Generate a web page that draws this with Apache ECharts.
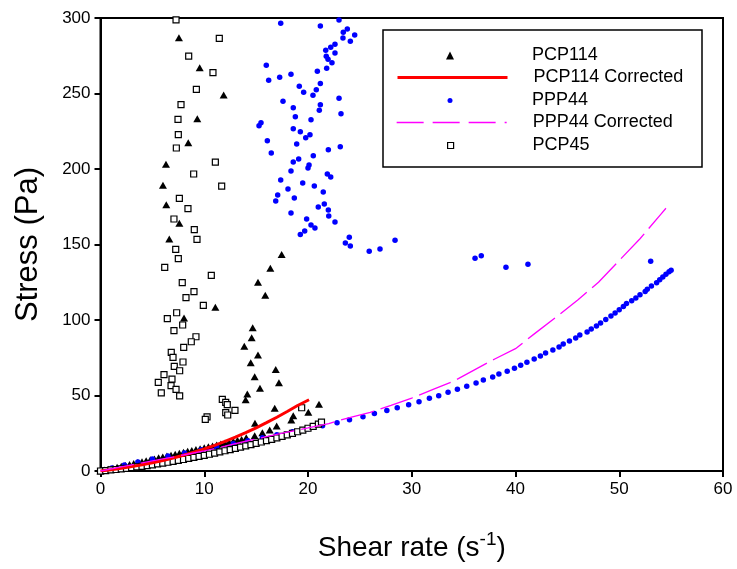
<!DOCTYPE html>
<html>
<head>
<meta charset="utf-8">
<script src="https://cdn.jsdelivr.net/npm/echarts@6/dist/echarts.min.js"></script>
<style>html,body{margin:0;padding:0;background:#fff}#c{width:737px;height:569px}</style>
</head>
<body>
<div id="c"></div>
<script>
// ---- data (x = shear rate 1/s, y = stress Pa) ----
const xTicks = [0, 10, 20, 30, 40, 50, 60];
const yTicks = [0, 50, 100, 150, 200, 250, 300];
const seriesNames = ['PCP114', 'PCP114 Corrected', 'PPP44', 'PPP44 Corrected', 'PCP45'];

const pcp114Curve = [[0,0],[0.4,0.6],[0.8,1.2],[1.2,1.9],[1.6,2.5],[2.0,3.1],[2.4,3.7],[2.8,4.3],[3.2,5.0],[3.6,5.6],[4.0,6.2],[4.4,6.8],[4.8,7.4],[5.2,8.0],[5.6,8.7],[6.0,9.3],[6.4,9.9],[6.8,10.5],[7.2,11.1],[7.6,11.7],[8.0,12.4],[8.4,13.0],[8.8,13.6],[9.2,14.2],[9.6,14.8],[10.0,15.4],[10.4,16.0],[10.8,16.6],[11.2,17.2],[11.6,17.9],[12.0,18.5],[12.4,19.1],[12.8,19.7],[13.2,20.3],[13.6,20.9],[14.05,22.0],[14.86,23.4],[15.6,25.4],[16.31,27.2],[16.98,29.8]];
const pcp114Scatter = [[7.56,287],[9.56,267],[11.87,249],[9.33,233.3],[8.46,217.4],[6.31,203.1],[6.02,189.2],[6.34,176.4],[7.6,164],[6.63,153.6],[11.07,108.4],[8.05,101.3],[17.46,143.3],[16.37,134.2],[15.18,125],[15.88,116.4],[14.67,94.9],[14.57,88.3],[13.86,82.6],[15.18,76.8],[14.48,71.7],[14.86,62.5],[16.89,67.3],[17.2,58.5],[15.37,54.8],[14.15,51],[13.99,47.2],[16.79,41.5],[21.06,44.2],[20.03,38.9],[18.58,36.6],[18.39,33.8],[14.89,31.6]];

const pcp114Corrected = [[0,0],[1,0.8],[2,1.8],[3,2.9],[4,4.1],[5,5.5],[6,7.0],[7,8.6],[8,10.4],[9,12.4],[10,14.6],[11,17.0],[12,19.6],[13,22.4],[14,25.4],[15,28.6],[16,32.0],[17,35.6],[18,39.4],[19,43.4],[20.1,47.2]];

const ppp44Curve = [[0,0],[1.1,2],[2.3,4],[3.6,6],[5.0,8],[6.5,10],[8.1,12],[9.7,14],[11.2,16],[12.8,18],[14.2,20],[15.6,22],[17.0,24],[18.5,26],[20.0,28],[21.4,30],[22.8,32],[24.0,34],[25.3,36],[26.4,38],[27.6,40],[28.6,41.9],[29.7,43.9],[30.7,45.9],[31.7,48.1],[32.6,49.9],[33.5,52.1],[34.4,54.1],[35.3,56.1],[36.2,58.3],[36.9,60.3],[37.8,62.3],[38.4,64.2],[39.2,66.0],[39.9,68.0],[40.5,70.0],[41.1,72.0],[41.8,74.2],[42.4,76.2],[42.9,78.1],[43.6,80.1],[44.2,82.1],[44.6,84.1],[45.2,86.1],[45.8,88.1],[46.2,90.1],[46.9,92.1],[47.3,94.0],[47.8,96.0],[48.2,98.0],[48.7,100.4],[49.2,102.6],[49.6,104.6],[50.0,106.8],[50.4,109.0],[50.7,111.0],[51.2,112.8],[51.6,114.6],[52.0,116.8],[52.5,118.8],[52.7,120.3],[53.1,122.5],[53.6,124.7],[53.9,126.7],[54.2,128.5],[54.5,130.3],[54.8,132.0],[55.0,132.9]];
const ppp44Scatter = [[17.37,296.5],[21.19,294.7],[22.99,298.7],[23.79,292.7],[23.4,290.5],[24.5,288.7],[23.37,286.8],[24.08,284.6],[22.6,282.6],[22.19,280.6],[21.71,278.6],[22.6,276.8],[21.76,274.6],[21.93,272.6],[22.31,270.4],[15.98,268.7],[21.8,266.7],[20.9,264.7],[18.36,262.7],[17.27,260.7],[16.21,258.7],[21.19,256.7],[19.16,254.8],[20.8,252.5],[19.58,250.8],[20.48,248.8],[22.99,246.8],[17.59,244.8],[21.19,242.6],[18.58,240.6],[21.09,238.9],[23.18,236.6],[18.78,234.6],[20.29,232.6],[15.47,230.6],[15.28,228.7],[18.58,226.7],[19.26,224.7],[20.19,222.7],[19.78,220.7],[16.08,218.7],[18.91,216.6],[23.11,214.8],[21.96,212.8],[16.46,210.6],[20.51,208.8],[19.1,206.6],[18.58,204.6],[20.1,202.6],[20.0,200.7],[18.36,198.7],[21.86,196.7],[22.19,194.7],[17.37,192.7],[19.49,190.7],[20.61,188.7],[18.07,186.8],[21.47,184.8],[17.08,182.8],[18.68,180.8],[16.89,178.8],[21.57,176.8],[20.99,174.8],[21.96,172.8],[18.36,170.9],[22.0,168.9],[19.87,166.9],[22.6,164.9],[20.29,162.9],[20.67,160.9],[19.68,158.9],[19.26,156.7],[23.98,154.8],[23.6,151.0],[24.08,149.0],[25.9,145.5],[26.94,147.0],[28.39,152.8],[36.1,140.9],[36.7,142.6],[39.08,134.9],[41.2,136.9],[53.03,138.9]];

const ppp44Corrected = [[0,0],[2,2.7],[4,5.4],[6,8.0],[8,10.6],[10,13.4],[12,16.4],[14,19.7],[16,22.8],[18,25.7],[20,28.5],[22,31.4],[24,35.4],[26,38.9],[28,43.5],[30,48.3],[32,53.9],[34,59.4],[36,66.8],[38,74.2],[40,81.0],[42,91.8],[44,102.3],[46,113.3],[48,125.0],[50,139.4],[52,153.8],[54,170.0],[54.5,174.0]];

const pcp45Curve = [[0,0],[0.5,0.3],[1,0.7],[1.5,1.0],[2,1.4],[2.5,1.8],[3,2.2],[3.5,2.7],[4,3.1],[4.5,3.6],[5,4.1],[5.5,4.7],[6,5.2],[6.5,5.8],[7,6.4],[7.5,7.0],[8,7.6],[8.5,8.3],[9,9.0],[9.5,9.7],[10,10.4],[10.5,11.1],[11,11.9],[11.5,12.6],[12,13.4],[12.5,14.2],[13,15.0],[13.5,15.8],[14,16.6],[14.5,17.5],[15,18.3],[15.5,19.2],[16,20.1],[16.5,21.0],[17,21.9],[17.5,22.9],[18,23.9],[18.5,24.9],[19,26.0],[19.5,27.1],[20,28.3],[20.5,29.6],[21,31.0],[21.3,32.4]];
const pcp45Scatter = [[7.28,298.7],[11.45,286.5],[8.5,274.8],[10.84,263.8],[9.24,252.7],[7.76,242.6],[7.47,232.9],[7.5,222.7],[7.31,213.9],[11.07,204.6],[8.98,196.7],[11.68,188.7],[7.6,180.5],[8.43,173.7],[7.08,166.9],[9.04,159.8],[9.3,153.4],[7.25,146.8],[7.5,140.6],[6.19,134.9],[10.68,129.6],[7.88,124.7],[9.01,118.8],[8.24,114.8],[9.91,109.7],[7.34,104.8],[6.44,100.9],[7.92,96.7],[7.08,92.9],[9.2,88.9],[8.75,85.6],[8.02,81.9],[6.82,78.6],[6.99,75.3],[7.95,72.2],[7.11,69.3],[7.63,66.4],[6.12,63.8],[6.89,60.9],[5.57,58.7],[6.8,56.5],[7.28,54.1],[5.86,51.7],[7.63,49.7],[11.74,47.5],[12.07,45.5],[12.22,43.9],[12.96,40.2],[12.07,38.6],[12.26,37.1],[10.27,35.8],[10.1,34.2],[19.39,41.9]];

// ---- chart ----
const FONT = '"Liberation Sans", Arial, sans-serif';
const chart = echarts.init(document.getElementById('c'), null, {renderer: 'canvas'});

const TEXT_X = 532;
function legendFor(name, center, iconLeft, itemWidth, itemHeight, extra) {
  return Object.assign({
    data: [name], orient: 'vertical', left: iconLeft, top: center - 7.5,
    itemWidth: itemWidth, itemHeight: itemHeight, padding: 0, selectedMode: false,
    textStyle: {fontSize: 18, color: '#000', fontFamily: FONT,
                padding: [0, 0, 0, TEXT_X - (iconLeft + itemWidth + 5)]}
  }, extra || {});
}

chart.setOption({
  animation: false,
  backgroundColor: '#fff',
  grid: {left: 100.5, right: 14, top: 18, bottom: 98, show: true, borderColor: '#000', borderWidth: 2, backgroundColor: 'transparent'},
  xAxis: {
    type: 'value', min: xTicks[0], max: xTicks[xTicks.length - 1], interval: xTicks[1] - xTicks[0],
    name: '{m|Shear rate (s}{s|-1}{m|)}', nameLocation: 'middle', nameGap: 59,
    nameTextStyle: {rich: {
      m: {fontSize: 28, fontFamily: FONT, color: '#000', verticalAlign: 'bottom'},
      s: {fontSize: 19, fontFamily: FONT, color: '#000', verticalAlign: 'bottom', padding: [0, 0, 13, 0]}
    }},
    axisLine: {lineStyle: {color: '#000', width: 2}},
    axisTick: {inside: false, length: 6, lineStyle: {color: '#000', width: 2}},
    axisLabel: {fontSize: 17, color: '#000', fontFamily: FONT, margin: 10},
    splitLine: {show: false}
  },
  yAxis: {
    type: 'value', min: yTicks[0], max: yTicks[yTicks.length - 1], interval: yTicks[1] - yTicks[0],
    name: 'Stress (Pa)', nameLocation: 'middle', nameGap: 57,
    nameTextStyle: {fontSize: 31, fontFamily: FONT, color: '#000'},
    axisLine: {lineStyle: {color: '#000', width: 2}},
    axisTick: {inside: false, length: 6, lineStyle: {color: '#000', width: 2}},
    axisLabel: {fontSize: 17, color: '#000', fontFamily: FONT, margin: 10},
    splitLine: {show: false}
  },
  graphic: [{
    type: 'rect', z: 3, shape: {x: 383, y: 30, width: 319, height: 137},
    style: {fill: '#fff', stroke: '#000', lineWidth: 1.5}
  }],
  legend: [
    legendFor(seriesNames[0], 54, 446, 8, 8, {itemStyle: {opacity: 1}}),
    legendFor(seriesNames[1], 76, 396, 110, 3, {itemStyle: {opacity: 0}, lineStyle: {width: 3, color: '#ff0000'}}),
    legendFor(seriesNames[2], 99, 447.5, 5, 5, {itemStyle: {opacity: 1}}),
    legendFor(seriesNames[3], 121, 396, 110, 2, {itemStyle: {opacity: 0}, lineStyle: {width: 1.3, color: '#ff00ff', type: [27, 9]}}),
    legendFor(seriesNames[4], 144, 447, 6, 6, {itemStyle: {borderWidth: 1.2, borderColor: '#000', color: '#fff', opacity: 1}})
  ],
  series: [
    {name: seriesNames[0], type: 'scatter', data: pcp114Curve.concat(pcp114Scatter),
     symbol: 'triangle', symbolSize: [8, 7], itemStyle: {color: '#000', opacity: 1}},
    {name: seriesNames[1], type: 'line', data: pcp114Corrected, symbol: 'none', smooth: false,
     lineStyle: {color: '#ff0000', width: 3}, itemStyle: {color: '#ff0000'}},
    {name: seriesNames[2], type: 'scatter', data: ppp44Curve.concat(ppp44Scatter),
     symbol: 'circle', symbolSize: 5.5, itemStyle: {color: '#0000ff', opacity: 1}},
    {name: seriesNames[3], type: 'line', data: ppp44Corrected, symbol: 'none', smooth: false,
     lineStyle: {color: '#ff00ff', width: 1.3, type: [34, 7]}, itemStyle: {color: '#ff00ff'}},
    {name: seriesNames[4], type: 'scatter', data: pcp45Curve.concat(pcp45Scatter),
     symbol: 'rect', symbolSize: 6, itemStyle: {color: '#fff', borderColor: '#000', borderWidth: 1.2, opacity: 1}}
  ]
});
</script>
</body>
</html>
